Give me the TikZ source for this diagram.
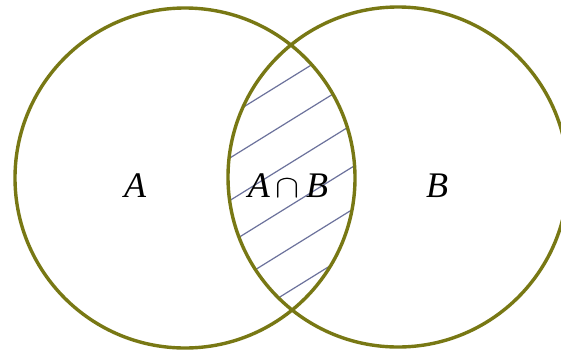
\documentclass[tikz,border=0pt]{standalone}
\usepackage{fontspec}
\usepackage{graphicx}
\setmainfont{Liberation Serif}
\begin{document}
\begin{tikzpicture}[x=1pt,y=-1pt,
  ring/.style={draw=ringcol, line width=3.4pt},
  hatchline/.style={draw=hatchcol, line width=1.2pt},
  setlabel/.style={font=\fontsize{36}{40}\selectfont\itshape, inner sep=0pt, anchor=base}]
\definecolor{ringcol}{RGB}{120,120,20}
\definecolor{hatchcol}{RGB}{108,114,156}
\useasboundingbox[fill=white] (0,0) rectangle (561,351);
\coordinate (ca) at (185,178);
\coordinate (cb) at (398,177);
\begin{scope}
  \clip (ca) circle[radius=170pt];
  \clip (cb) circle[radius=170pt];
  \foreach \c in {258,300.5,343,385.5,428,470.5}{
    \draw[hatchline] (180,{\c-0.62*180}) -- (400,{\c-0.62*400});
  }
\end{scope}
\draw[ring] (ca) circle[radius=170pt];
\draw[ring] (cb) circle[radius=170pt];
\node[setlabel] (la) at (135,197) {A};
\node[setlabel] (lab) at (288,197) {A\,\scalebox{1.45}[1.3]{$\mathsurround=0pt\cap$}\,B};
\node[setlabel] (lb) at (437,197) {B};
\end{tikzpicture}
\end{document}
